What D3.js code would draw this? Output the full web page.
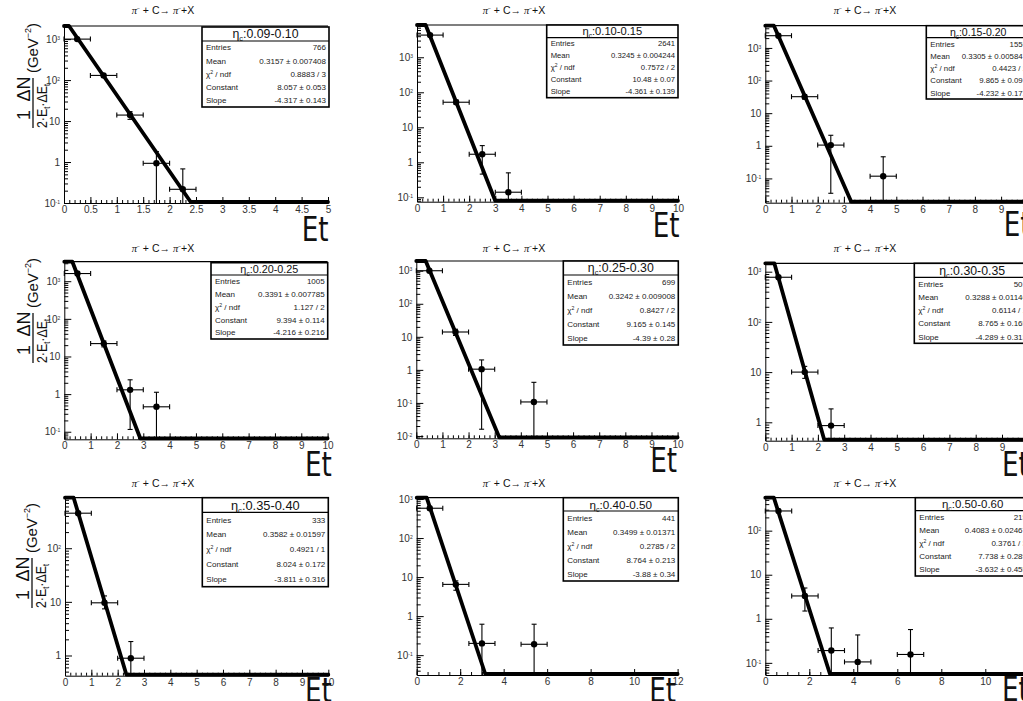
<!DOCTYPE html>
<html>
<head>
<meta charset="utf-8">
<script src="https://cdn.jsdelivr.net/npm/d3@7"></script>
<style>
body { margin: 0; background: #fff; }
svg { display: block; font-family: "Liberation Sans", Arial, sans-serif; }
</style>
</head>
<body>
<script>
// eta_c slices and fit results (stat boxes)
var etaBins = ["0.09-0.10", "0.10-0.15", "0.15-0.20", "0.20-0.25", "0.25-0.30", "0.30-0.35", "0.35-0.40", "0.40-0.50", "0.50-0.60"];
var entries = ["766", "2641", "1555", "1005", "699", "501", "333", "441", "215"];
var means = ["0.3157 \u00b1 0.007408", "0.3245 \u00b1 0.004244", "0.3305 \u00b1 0.005847", "0.3391 \u00b1 0.007785", "0.3242 \u00b1 0.009008",
             "0.3288 \u00b1 0.01146", "0.3582 \u00b1 0.01597", "0.3499 \u00b1 0.01371", "0.4083 \u00b1 0.02467"];
var chi2ndf = ["0.8883 / 3", "0.7572 / 2", "0.4423 / 2", "1.127 / 2", "0.8427 / 2", "0.6114 / 1", "0.4921 / 1", "0.2785 / 2", "0.3761 / 3"];
var constants = [[8.057, 0.053], [10.48, 0.07], [9.865, 0.091], [9.394, 0.114], [9.165, 0.145], [8.765, 0.165], [8.024, 0.172], [8.764, 0.213], [7.738, 0.289]];
var slopes = [[-4.317, 0.143], [-4.361, 0.139], [-4.232, 0.172], [-4.216, 0.216], [-4.39, 0.28], [-4.289, 0.313], [-3.811, 0.316], [-3.88, 0.34], [-3.632, 0.455]];

// histogram points: bin centres, half widths, contents and error ranges
var binCenters = [[0.25, 0.75, 1.25, 1.75, 2.25], [0.5, 1.5, 2.5, 3.5], [0.5, 1.5, 2.5, 4.5], [0.5, 1.5, 2.5, 3.5], [0.5, 1.5, 2.5, 4.5],
                  [0.5, 1.5, 2.5], [0.5, 1.5, 2.5], [0.6, 1.8, 3.0, 5.4], [0.6, 1.8, 3.0, 4.2, 6.6]];
var binHalfWidth = [0.25, 0.5, 0.5, 0.5, 0.5, 0.5, 0.5, 0.6, 0.6];
var counts = [[1000, 130, 14, 0.93, 0.216], [4300, 52, 1.7, 0.14], [2370, 32, 1.05, 0.117], [1600, 22, 1.3, 0.46], [1000, 14, 1.05, 0.107],
              [775, 10, 0.86], [450, 9.6, 0.89], [580, 6.5, 0.2, 0.19], [280, 3.3, 0.19, 0.105, 0.155]];
var errLow = [[970, 121, 11, 0, 0], [4200, 45, 0.46, 0], [2320, 27, 0.035, 0], [1550, 18, 0.115, 0], [960, 11, 0.016, 0],
              [740, 7.5, 0], [430, 7.4, 0], [555, 4.6, 0, 0], [265, 1.5, 0, 0, 0]];
var errHigh = [[1030, 139, 17, 1.8, 0.68], [4400, 60, 3.0, 0.5], [2420, 37, 2.1, 0.46], [1650, 26, 2.4, 1.12], [1040, 17, 2.0, 0.42],
               [810, 13, 1.85], [470, 12.9, 1.82], [605, 8.0, 0.62, 0.62], [295, 5, 0.62, 0.43, 0.57]];

// axis ranges and tick steps
var xMax = [5, 10, 10, 10, 10, 10, 10, 12, 12];
var xMajor = [0.5, 1, 1, 1, 1, 1, 1, 2, 2];
var xMinor = [0.1, 0.2, 0.2, 0.2, 0.2, 0.2, 0.2, 0.5, 0.5];
var yRange = [[0.1, 2090], [0.075, 8350], [0.018, 4800], [0.063, 3300], [0.0085, 1970], [0.43, 1470], [0.42, 875], [0.031, 1080], [0.053, 560]];

// layout (pixels): frame [left, top, right, bottom], stat box [x0, y0, x1, y1, header bottom]
var frames = [[64, 26, 328, 203], [417, 25, 678, 201.7], [765.3, 25.7, 1027.3, 202.7],
              [64.3, 261.7, 327.6, 439.3], [416.3, 261, 677.6, 438.3], [765.3, 263.3, 1028.3, 440.7],
              [65, 497.7, 328.3, 675.7], [416.7, 497.7, 677.6, 675], [765.3, 497.7, 1029.3, 675]];
var statBoxes = [[202, 27, 329, 107, 41], [546.7, 25, 678, 97.7, 37.7], [926.3, 25.7, 1030, 99, 37.7],
                 [211, 262.7, 327.7, 339, 275], [563.3, 261, 678.3, 345, 275], [914.3, 263.3, 1030, 343.3, 277.3],
                 [202.3, 497.7, 328.3, 586.7, 512.3], [563.3, 497.7, 678.3, 581, 511], [915.3, 497.7, 1030, 576, 510.7]];
var etPos = [[301.7, 241], [652.7, 237], [1003.7, 236], [305, 476], [650.3, 472], [1002, 476], [305, 702], [649.3, 702], [1002, 701]];
var titleX = [163, 514, 865];
var titleY = [14, 252, 487];
var yTitlePos = [[33, 128], [33, 363], [32, 608]];

var svg = d3.select("body").append("svg")
  .attr("width", 1023)
  .attr("height", 701);

function decadeLabels(sel) {
  sel.each(function(d) {
    var t = d3.select(this);
    var e = Math.round(Math.log10(d));
    t.text(null);
    if (e === 0) t.text("1");
    else if (e === 1) t.text("10");
    else {
      t.append("tspan").text("10");
      t.append("tspan").attr("dy", -3).attr("font-size", 5).text(e);
    }
  });
}

function drawYTitle(cx, cy) {
  var g = svg.append("g")
    .attr("transform", `translate(${cx},${cy}) rotate(-90)`)
    .attr("fill", "#111")
    .attr("font-family", "'Liberation Sans', Arial, sans-serif");
  g.append("line").attr("x1", 0).attr("x2", 50).attr("y1", 0).attr("y2", 0)
    .attr("stroke", "#111").attr("stroke-width", 1.3);
  g.append("text").attr("x", 13).attr("y", -3).attr("text-anchor", "middle").attr("font-size", 18).text("1");
  g.append("text").attr("x", 39).attr("y", -3).attr("text-anchor", "middle").attr("font-size", 18).text("\u0394N");
  var den = g.append("text").attr("x", 0).attr("y", 14).attr("font-size", 15)
    .attr("textLength", 44).attr("lengthAdjust", "spacingAndGlyphs");
  den.append("tspan").text("2\u00b7E");
  den.append("tspan").attr("font-size", 9).attr("dy", 3).text("t");
  den.append("tspan").attr("dy", -3).text("\u00b7\u0394E");
  den.append("tspan").attr("font-size", 9).attr("dy", 3).text("t");
  var u = g.append("text").attr("x", 55).attr("y", 5).attr("font-size", 15)
    .attr("textLength", 50).attr("lengthAdjust", "spacingAndGlyphs");
  u.append("tspan").text("(GeV");
  u.append("tspan").attr("font-size", 9).attr("dy", -7).text("\u22122");
  u.append("tspan").attr("dy", 7).text(")");
}

etaBins.forEach(function(eta, i) {
  var f = frames[i];
  var g = svg.append("g");

  var x = d3.scaleLinear().domain([0, xMax[i]]).range([f[0], f[2]]);
  var y = d3.scaleLog().domain(yRange[i]).range([f[3], f[1]]);
  var yLo = yRange[i][0], yHi = yRange[i][1];

  // frame
  g.append("line").attr("x1", f[0]).attr("x2", f[2]).attr("y1", f[1]).attr("y2", f[1])
    .attr("stroke", "#000").attr("stroke-width", 1.2);

  // x axis: major ticks with labels, minor ticks inside
  var majors = d3.range(0, xMax[i] + 1e-9, xMajor[i]);
  var minors = d3.range(0, xMax[i] + 1e-9, xMinor[i]);
  g.append("g")
    .attr("transform", `translate(0,${f[3]})`)
    .call(d3.axisBottom(x).tickValues(minors).tickSize(-3).tickFormat(""))
    .call(a => a.select(".domain").remove());
  g.append("g")
    .attr("transform", `translate(0,${f[3]})`)
    .attr("font-size", 7)
    .attr("font-family", "'Liberation Sans', Arial, sans-serif")
    .call(d3.axisBottom(x).tickValues(majors).tickSize(-6).tickSizeOuter(0).tickPadding(3).tickFormat(d3.format("~g")))
    .call(a => a.selectAll("text").attr("fill", "#333"));

  // y axis: decades plus minor 2..9
  var eMin = Math.ceil(Math.log10(yLo) - 1e-9), eMax = Math.floor(Math.log10(yHi) + 1e-9);
  var decades = d3.range(eMin, eMax + 1).map(e => Math.pow(10, e));
  var yMinors = [];
  d3.range(eMin - 1, eMax + 1).forEach(function(e) {
    d3.range(2, 10).forEach(function(m) {
      var v = m * Math.pow(10, e);
      if (v > yLo && v < yHi) yMinors.push(v);
    });
  });
  g.append("g")
    .attr("transform", `translate(${f[0]},0)`)
    .call(d3.axisLeft(y).tickValues(yMinors).tickSize(-4).tickFormat(""))
    .call(a => a.select(".domain").remove());
  g.append("g")
    .attr("transform", `translate(${f[0]},0)`)
    .attr("font-size", 7)
    .attr("font-family", "'Liberation Sans', Arial, sans-serif")
    .call(d3.axisLeft(y).tickValues(decades).tickSize(-7).tickSizeOuter(0).tickPadding(4))
    .call(a => a.selectAll(".tick text").attr("fill", "#333").call(decadeLabels));

  // points with error bars
  var hw = binHalfWidth[i];
  var pts = binCenters[i].map(function(c, j) {
    return { c: c, v: counts[i][j], lo: Math.max(errLow[i][j], yLo), hi: Math.min(errHigh[i][j], yHi) };
  });
  var pg = g.append("g").attr("stroke", "#000").attr("stroke-width", 1.1);
  pts.forEach(function(p) {
    var x0 = x(Math.max(p.c - hw, 0)), x1 = x(p.c + hw), yv = y(p.v);
    pg.append("line").attr("x1", x0).attr("x2", x1).attr("y1", yv).attr("y2", yv);
    pg.append("line").attr("x1", x0).attr("x2", x0).attr("y1", yv - 2.5).attr("y2", yv + 2.5);
    pg.append("line").attr("x1", x1).attr("x2", x1).attr("y1", yv - 2.5).attr("y2", yv + 2.5);
    var xc = x(p.c), ya = y(p.hi), yb = y(p.lo);
    pg.append("line").attr("x1", xc).attr("x2", xc).attr("y1", ya).attr("y2", yb);
    if (p.hi < yHi) pg.append("line").attr("x1", xc - 2.5).attr("x2", xc + 2.5).attr("y1", ya).attr("y2", ya);
    if (p.lo > yLo) pg.append("line").attr("x1", xc - 2.5).attr("x2", xc + 2.5).attr("y1", yb).attr("y2", yb);
  });
  g.selectAll("circle.pt").data(pts).enter().append("circle")
    .attr("class", "pt")
    .attr("cx", d => x(d.c))
    .attr("cy", d => y(d.v))
    .attr("r", 3.2)
    .attr("fill", "#000");

  // exponential fit exp(Constant + Slope*x), clipped to the frame like ROOT does
  var c0 = constants[i][0], s0 = slopes[i][0];
  var xTop = Math.max(0, (Math.log(yHi) - c0) / s0);
  var xBot = Math.min(xMax[i], (Math.log(yLo) - c0) / s0);
  var fitPts = [[0, Math.min(Math.exp(c0), yHi)], [xTop, yHi], [xBot, yLo], [xMax[i], yLo]];
  g.append("path")
    .datum(fitPts)
    .attr("d", d3.line().x(d => x(d[0])).y(d => Math.min(y(d[1]), f[3] - 1)).curve(d3.curveLinear))
    .attr("fill", "none")
    .attr("stroke", "#000")
    .attr("stroke-width", 3.8)
    .attr("stroke-linejoin", "round")
    .attr("stroke-linecap", "round");

  // stat box
  var b = statBoxes[i];
  var sb = g.append("g");
  sb.append("rect").attr("x", b[0]).attr("y", b[1]).attr("width", b[2] - b[0]).attr("height", b[3] - b[1])
    .attr("fill", "#fff").attr("stroke", "#000").attr("stroke-width", 1.6);
  sb.append("line").attr("x1", b[0]).attr("x2", b[2]).attr("y1", b[4]).attr("y2", b[4])
    .attr("stroke", "#000").attr("stroke-width", 1.2);
  var hfs = (b[4] - b[1]) * 0.88;
  var head = sb.append("text").attr("x", (b[0] + b[2]) / 2).attr("y", b[4] - (b[4] - b[1]) * 0.18)
    .attr("text-anchor", "middle").attr("font-size", hfs).attr("fill", "#111");
  head.append("tspan").text("\u03b7");
  head.append("tspan").attr("font-size", hfs * 0.6).attr("dy", 3).text("c");
  head.append("tspan").attr("dy", -3).text(":" + eta);

  var rowH = (b[3] - b[4]) / 5;
  var rfs = Math.min(8, rowH * 0.64);
  var labels = ["Entries", "Mean", "chi", "Constant", "Slope"];
  var values = [entries[i], means[i], chi2ndf[i], constants[i][0] + " \u00b1 " + constants[i][1], slopes[i][0] + " \u00b1 " + slopes[i][1]];
  labels.forEach(function(lab, k) {
    var ty = b[4] + rowH * (k + 0.5) + rfs * 0.35;
    var t = sb.append("text").attr("x", b[0] + 4).attr("y", ty).attr("font-size", rfs).attr("fill", "#222");
    if (lab === "chi") {
      t.append("tspan").text("\u03c7");
      t.append("tspan").attr("dy", -3).attr("font-size", rfs * 0.65).text("2");
      t.append("tspan").attr("dy", 3).text(" / ndf");
    } else {
      t.text(lab);
    }
    sb.append("text").attr("x", b[2] - 3).attr("y", ty).attr("text-anchor", "end")
      .attr("font-size", rfs).attr("fill", "#222").text(values[k]);
  });

  // title
  var col = i % 3, row = Math.floor(i / 3);
  var tt = g.append("text").attr("x", titleX[col]).attr("y", titleY[row]).attr("text-anchor", "middle")
    .attr("font-size", 10.5).attr("fill", "#111");
  tt.append("tspan").attr("font-family", "'Liberation Serif', serif").attr("font-style", "italic").text("\u03c0");
  tt.append("tspan").attr("font-size", 5).attr("dy", -4).text("\u2212");
  tt.append("tspan").attr("dy", 4).text(" + C\u2192 ");
  tt.append("tspan").attr("font-family", "'Liberation Serif', serif").attr("font-style", "italic").text("\u03c0");
  tt.append("tspan").attr("font-size", 5).attr("dy", -4).text("\u2212");
  tt.append("tspan").attr("dy", 4).text("+X");

  // big E_t label
  svg.append("text")
    .attr("transform", `translate(${etPos[i][0]},${etPos[i][1]}) scale(0.82,1.03)`)
    .attr("font-family", "'DejaVu Sans', sans-serif")
    .attr("font-size", 32)
    .attr("fill", "#111")
    .text("Et");

  if (col === 0) drawYTitle(yTitlePos[row][0], yTitlePos[row][1]);
});
</script>
</body>
</html>
